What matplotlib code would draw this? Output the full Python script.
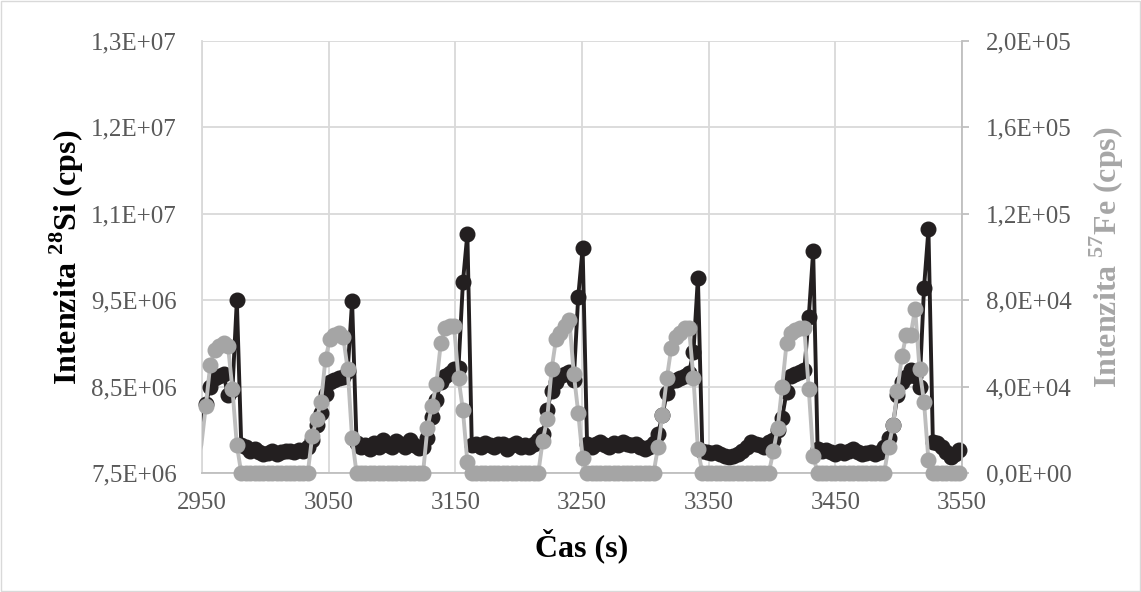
import numpy as np
import matplotlib.pyplot as plt
from matplotlib.patches import Rectangle

plt.rcParams['font.family'] = ['Liberation Serif', 'DejaVu Serif']
plt.rcParams['mathtext.fontset'] = 'custom'
plt.rcParams['mathtext.rm'] = 'Liberation Serif'
plt.rcParams['mathtext.bf'] = 'Liberation Serif:bold'

# time (s)
cas = [2946, 2949.5, 2953, 2956.5, 2960, 2963.5, 2967, 2970.5, 2974, 2977.5, 2981, 2984.5, 2988, 2991.5, 2995, 2998.5, 3002, 3005.5, 3009, 3012.5, 3016, 3019.5, 3023, 3026.5, 3030, 3033.5,
       3037, 3040.5, 3044, 3047.5, 3051, 3054.5, 3058, 3061.5, 3065, 3068.5, 3072, 3075.5, 3079, 3082.5, 3086, 3089.5, 3093, 3096.5, 3100, 3103.5, 3107, 3110.5, 3114, 3117.5, 3121, 3124.5,
       3128, 3131.5, 3135, 3138.5, 3142, 3145.5, 3149, 3152.5, 3156, 3159.5, 3163, 3166.5, 3170, 3173.5, 3177, 3180.5, 3184, 3187.5, 3191, 3194.5, 3198, 3201.5, 3205, 3208.5, 3212, 3215.5,
       3219, 3222.5, 3226, 3229.5, 3233, 3236.5, 3240, 3243.5, 3247, 3250.5, 3254, 3257.5, 3261, 3264.5, 3268, 3271.5, 3275, 3278.5, 3282, 3285.5, 3289, 3292.5, 3296, 3299.5, 3303, 3306.5,
       3310, 3313.5, 3317, 3320.5, 3324, 3327.5, 3331, 3334.5, 3338, 3341.5, 3345, 3348.5, 3352, 3355.5, 3359, 3362.5, 3366, 3369.5, 3373, 3376.5, 3380, 3383.5, 3387, 3390.5, 3394, 3397.5,
       3401, 3404.5, 3408, 3411.5, 3415, 3418.5, 3422, 3425.5, 3429, 3432.5, 3436, 3439.5, 3443, 3446.5, 3450, 3453.5, 3457, 3460.5, 3464, 3467.5, 3471, 3474.5, 3478, 3481.5, 3485, 3488.5,
       3492, 3495.5, 3499, 3502.5, 3506, 3509.5, 3513, 3516.5, 3520, 3523.5, 3527, 3530.5, 3534, 3537.5, 3541, 3544.5, 3548]

# 28Si intensity (millions of cps)
si28 = [7.90, 8.10, 8.30, 8.50, 8.60, 8.62, 8.65, 8.40, 8.46, 9.50, 7.82, 7.80, 7.76, 7.78, 7.74, 7.72, 7.73, 7.75, 7.72, 7.74, 7.76, 7.75, 7.74, 7.77, 7.76, 7.80,
        7.88, 8.05, 8.20, 8.42, 8.55, 8.58, 8.60, 8.61, 8.68, 9.49, 7.85, 7.80, 7.82, 7.78, 7.85, 7.80, 7.88, 7.82, 7.80, 7.87, 7.84, 7.80, 7.88, 7.82, 7.79, 7.80,
        7.90, 8.15, 8.35, 8.55, 8.62, 8.66, 8.70, 8.72, 9.71, 10.27, 7.82, 7.83, 7.80, 7.85, 7.82, 7.80, 7.84, 7.83, 7.78, 7.82, 7.85, 7.80, 7.82, 7.80, 7.84, 7.88,
        7.95, 8.23, 8.45, 8.55, 8.62, 8.65, 8.67, 8.58, 9.54, 10.10, 7.83, 7.80, 7.84, 7.86, 7.82, 7.80, 7.85, 7.82, 7.86, 7.84, 7.82, 7.84, 7.80, 7.78, 7.80, 7.85,
        7.95, 8.17, 8.43, 8.56, 8.58, 8.60, 8.62, 8.66, 8.90, 9.76, 7.76, 7.74, 7.73, 7.74, 7.72, 7.70, 7.68, 7.70, 7.72, 7.76, 7.80, 7.86, 7.84, 7.82, 7.80, 7.86,
        7.88, 8.00, 8.14, 8.44, 8.62, 8.65, 8.67, 8.69, 9.30, 10.07, 7.78, 7.76, 7.77, 7.74, 7.72, 7.75, 7.73, 7.76, 7.78, 7.74, 7.72, 7.73, 7.74, 7.72, 7.74, 7.80,
        7.90, 8.06, 8.40, 8.55, 8.61, 8.69, 8.62, 8.50, 9.64, 10.32, 7.86, 7.85, 7.80, 7.74, 7.69, 7.72, 7.77]

# 57Fe intensity (thousands of cps)
fe57 = [5, 13, 31, 50, 57, 59, 60, 59, 39, 13, 0, 0, 0, 0, 0, 0, 0, 0, 0, 0, 0, 0, 0, 0, 0, 0,
        17, 25, 33, 53, 62, 64, 65, 63, 48, 16, 0, 0, 0, 0, 0, 0, 0, 0, 0, 0, 0, 0, 0, 0, 0, 0,
        21, 31, 41, 60, 67, 68, 68, 44, 29, 5, 0, 0, 0, 0, 0, 0, 0, 0, 0, 0, 0, 0, 0, 0, 0, 0,
        15, 25, 48, 62, 65, 68, 71, 46, 28, 7, 0, 0, 0, 0, 0, 0, 0, 0, 0, 0, 0, 0, 0, 0, 0, 0,
        12, 27, 44, 58, 63, 65, 67, 67, 44, 11, 0, 0, 0, 0, 0, 0, 0, 0, 0, 0, 0, 0, 0, 0, 0, 0,
        10, 21, 40, 60, 65, 66, 67, 67, 39, 8, 0, 0, 0, 0, 0, 0, 0, 0, 0, 0, 0, 0, 0, 0, 0, 0,
        12, 22, 38, 54, 64, 64, 76, 48, 33, 6, 0, 0, 0, 0, 0, 0, 0]

x_ticks = [2950, 3050, 3150, 3250, 3350, 3450, 3550]
si_ticks = [7.5e6, 8.5e6, 9.5e6, 10.5e6, 11.5e6, 12.5e6]
si_labels = ['7,5E+06', '8,5E+06', '9,5E+06', '1,1E+07', '1,2E+07', '1,3E+07']
fe_ticks = [0, 4e4, 8e4, 1.2e5, 1.6e5, 2e5]
fe_labels = ['0,0E+00', '4,0E+04', '8,0E+04', '1,2E+05', '1,6E+05', '2,0E+05']

t = np.array(cas)
si = np.array(si28) * 1e6
fe = np.array(fe57) * 1e3
vis = t >= 2950

black = '#231f20'
grey_m = '#a5a5a5'
grey_l = '#bdbdbd'
tick_col = '#595959'
grid_col = '#d9d9d9'

fig = plt.figure(figsize=(11.41, 5.92), dpi=100)
ax = fig.add_axes([202/1141, 1 - 473/592, 760/1141, 432/592])
ax2 = ax.twinx()

ax.plot(t, si, color=black, lw=2.8, zorder=3)
ax.plot(t[vis], si[vis], 'o', color=black, ms=10.5, clip_on=False, zorder=4)
ax2.plot(t, fe, color=grey_l, lw=2.8, zorder=3)
ax2.plot(t[vis], fe[vis], 'o', color=grey_m, ms=10.5, clip_on=False, zorder=4)

ax.set_xlim(2950, 3550)
ax.set_ylim(7.5e6, 12.5e6)
ax2.set_ylim(0, 2e5)

ax.set_xticks(x_ticks)
ax.set_xticklabels([str(v) for v in x_ticks])
ax.set_yticks(si_ticks)
ax.set_yticklabels(si_labels)
ax2.set_yticks(fe_ticks)
ax2.set_yticklabels(fe_labels)

ax.grid(True, color=grid_col, lw=1.3, zorder=0)
ax.set_axisbelow(True)

for a in (ax, ax2):
    for s in a.spines.values():
        s.set_visible(False)
ax.spines['left'].set_visible(True)
ax.spines['left'].set_color(grid_col)
ax.spines['left'].set_linewidth(1.3)
ax.spines['bottom'].set_visible(True)
ax.spines['bottom'].set_color('#bfbfbf')
ax.spines['bottom'].set_linewidth(1.3)
ax2.spines['right'].set_visible(True)
ax2.spines['right'].set_color('#bfbfbf')
ax2.spines['right'].set_linewidth(1.3)

ax.tick_params(axis='y', length=0, pad=18, labelsize=18, labelcolor=tick_col)
ax.tick_params(axis='x', length=0, pad=14, labelsize=18, labelcolor=tick_col)
ax2.tick_params(axis='y', length=5, width=1.3, color='#bfbfbf', pad=12, labelsize=18, labelcolor=tick_col)

ax.set_ylabel(r'Intenzita $^{\mathbf{28}}$Si (cps)', fontsize=23, fontweight='bold', color='black', labelpad=4)
ax2.set_ylabel(r'Intenzita $^{\mathbf{57}}$Fe (cps)', fontsize=23, fontweight='bold', color='#a6a6a6', labelpad=12, rotation=90)
ax.set_xlabel('Čas (s)', fontsize=23, fontweight='bold', color='black', labelpad=10)

fig.patches.append(Rectangle((0.0005, 0.001), 0.999, 0.998, transform=fig.transFigure,
                             fill=False, edgecolor=grid_col, lw=1))

fig.savefig('out.png', dpi=100)
